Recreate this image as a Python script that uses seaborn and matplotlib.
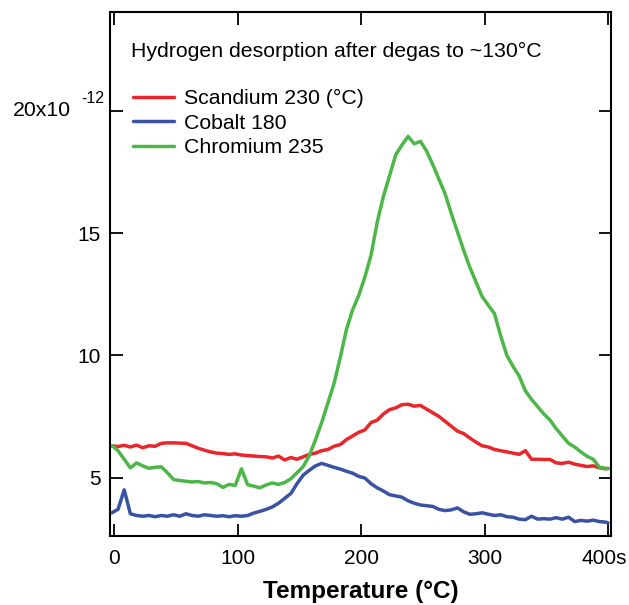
import matplotlib
matplotlib.use("Agg")
import matplotlib.pyplot as plt
import matplotlib.transforms as mtransforms
import seaborn as sns
import pandas as pd

sns.set_style("white")
plt.rcParams['font.family'] = ['Liberation Sans', 'DejaVu Sans']
plt.rcParams['text.color'] = 'black'
plt.rcParams['axes.labelcolor'] = 'black'

temperature = [-2, 3, 8, 13, 18, 23, 28, 33, 38, 43, 48, 53, 58, 63, 68, 73, 78, 83, 88, 93,
               98, 103, 108, 113, 118, 123, 128, 133, 138, 143, 148, 153, 158, 163, 168, 173,
               178, 183, 188, 193, 198, 203, 208, 213, 218, 223, 228, 233, 238, 243, 248, 253,
               258, 263, 268, 273, 278, 283, 288, 293, 298, 303, 308, 313, 318, 323, 328, 333,
               338, 343, 348, 353, 358, 363, 368, 373, 378, 383, 388, 393, 398, 400]

scandium = [6.30, 6.27, 6.32, 6.25, 6.33, 6.22, 6.30, 6.28, 6.40, 6.42, 6.42, 6.41, 6.40, 6.30,
            6.20, 6.12, 6.05, 6.00, 5.98, 5.95, 5.97, 5.92, 5.90, 5.88, 5.86, 5.85, 5.80, 5.88,
            5.72, 5.82, 5.75, 5.85, 5.95, 6.00, 6.10, 6.15, 6.28, 6.35, 6.55, 6.70, 6.85, 6.95,
            7.25, 7.35, 7.60, 7.78, 7.85, 7.98, 8.00, 7.92, 7.95, 7.80, 7.65, 7.50, 7.30, 7.10,
            6.90, 6.80, 6.62, 6.45, 6.30, 6.25, 6.15, 6.10, 6.05, 6.00, 5.95, 6.10, 5.75, 5.75,
            5.74, 5.74, 5.60, 5.58, 5.63, 5.55, 5.50, 5.45, 5.48, 5.40, 5.36, 5.38]

cobalt = [3.56, 3.70, 4.50, 3.52, 3.45, 3.42, 3.45, 3.40, 3.45, 3.42, 3.48, 3.42, 3.52, 3.45,
          3.42, 3.48, 3.45, 3.42, 3.44, 3.40, 3.44, 3.42, 3.45, 3.55, 3.62, 3.70, 3.80, 3.95,
          4.15, 4.35, 4.75, 5.10, 5.30, 5.48, 5.58, 5.50, 5.42, 5.35, 5.26, 5.18, 5.05, 4.98,
          4.75, 4.58, 4.45, 4.30, 4.25, 4.20, 4.05, 3.95, 3.88, 3.85, 3.82, 3.70, 3.65, 3.68,
          3.76, 3.60, 3.50, 3.52, 3.56, 3.50, 3.45, 3.48, 3.40, 3.38, 3.30, 3.28, 3.42, 3.30,
          3.32, 3.30, 3.36, 3.30, 3.38, 3.20, 3.25, 3.22, 3.26, 3.20, 3.18, 3.15]

chromium = [6.31, 6.10, 5.75, 5.40, 5.60, 5.48, 5.38, 5.42, 5.44, 5.20, 4.92, 4.88, 4.85, 4.82,
            4.84, 4.78, 4.80, 4.75, 4.60, 4.72, 4.68, 5.36, 4.71, 4.65, 4.58, 4.70, 4.78, 4.72,
            4.80, 4.95, 5.20, 5.45, 5.90, 6.55, 7.25, 8.05, 8.85, 9.90, 11.05, 11.85, 12.45,
            13.20, 14.10, 15.45, 16.50, 17.35, 18.20, 18.60, 18.95, 18.65, 18.75, 18.35, 17.80,
            17.20, 16.60, 15.80, 15.05, 14.30, 13.60, 13.00, 12.40, 12.05, 11.70, 10.80, 10.00,
            9.55, 9.15, 8.55, 8.20, 7.90, 7.60, 7.35, 7.00, 6.70, 6.40, 6.25, 6.05, 5.87, 5.75,
            5.42, 5.38, 5.36]

series_names = ["Scandium 230 (°C)", "Cobalt 180", "Chromium 235"]
series_colors = ["#e8262b", "#3a52a3", "#4cb748"]
x_ticks = [0, 100, 200, 300, 400]
x_tick_labels = ["0", "100", "200", "300", "400s"]
y_ticks = [5, 10, 15, 20]
y_tick_labels = ["5", "10", "15", ""]

df = pd.concat([
    pd.DataFrame({"Temperature": temperature, "value": vals, "series": name})
    for name, vals in zip(series_names, [scandium, cobalt, chromium])
], ignore_index=True)

fig = plt.figure(figsize=(6.29, 6.05), dpi=100)
ax = fig.add_axes([0.1749, 0.1140, 0.9714 - 0.1749, 0.9802 - 0.1140])

sns.lineplot(data=df, x="Temperature", y="value", hue="series", hue_order=series_names,
             palette=series_colors, linewidth=2.5, ax=ax, legend=False, sort=False)

ax.set_xlim(-3.5, 402.4)
ax.set_ylim(2.61, 24.04)
ax.set_xticks(x_ticks)
ax.set_xticklabels(x_tick_labels)
ax.set_yticks(y_ticks)
ax.set_yticklabels(y_tick_labels)
ax.tick_params(direction="in", length=9, width=1.3, labelsize=15, pad=7,
               top=True, right=True, left=True, bottom=True,
               color="black", labelcolor="black")
ax.tick_params(axis="x", pad=9)
for s in ax.spines.values():
    s.set_visible(True)
    s.set_linewidth(1.5)
    s.set_color("black")

# nudge the last x tick label slightly left so it stays inside the canvas
last_lbl = ax.get_xticklabels()[-1]
last_lbl.set_transform(last_lbl.get_transform() +
                       mtransforms.ScaledTranslation(-3 / 72, 0, fig.dpi_scale_trans))

ax.set_xlabel("Temperature (°C)", fontsize=17.5, fontweight="bold", labelpad=9)
ax.set_ylabel("")

ax.annotate("20x10", xy=(0, 20), xycoords=("axes fraction", "data"),
            xytext=(-28, 0), textcoords="offset points", ha="right", va="center",
            fontsize=15.3)
ax.annotate("-12", xy=(0, 20), xycoords=("axes fraction", "data"),
            xytext=(-21, 8.5), textcoords="offset points", ha="left", va="center",
            fontsize=11.5)

ax.text(0.042, 0.925, "Hydrogen desorption after degas to ~130°C", transform=ax.transAxes,
        fontsize=15.3, ha="left", va="center")

handles = [plt.Line2D([], [], color=c, linewidth=2.5) for c in series_colors]
ax.legend(handles, series_names, loc="upper left", bbox_to_anchor=(0.046, 0.853),
          frameon=False, fontsize=15.3, handlelength=1.95, handletextpad=0.45,
          labelspacing=0.26, borderaxespad=0.0, borderpad=0.0)

fig.savefig("out.png", dpi=100)
